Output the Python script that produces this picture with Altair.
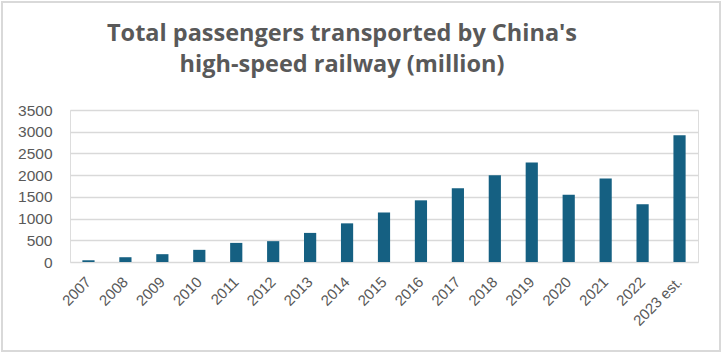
import altair as alt
import pandas as pd

years = ["2007", "2008", "2009", "2010", "2011", "2012", "2013", "2014", "2015",
         "2016", "2017", "2018", "2019", "2020", "2021", "2022", "2023 est."]
passengers = [40, 110, 180, 280, 440, 480, 670, 890, 1140,
              1420, 1700, 2000, 2290, 1550, 1920, 1330, 2920]

df = pd.DataFrame({"year": years, "passengers": passengers})

TXT = "#595959"
FONT = "Liberation Sans"

bars = alt.Chart(df).mark_bar(color="#156082").encode(
    x=alt.X("year:N", sort=years, title=None,
            scale=alt.Scale(paddingInner=0.67, paddingOuter=0.335),
            axis=alt.Axis(labelAngle=-45, labelAlign="right", labelBaseline="middle",
                          labelFontSize=15, labelColor=TXT, labelFont=FONT,
                          labelPadding=17, ticks=False, domain=False, grid=False)),
    y=alt.Y("passengers:Q", title=None,
            scale=alt.Scale(domain=[0, 3500], nice=False),
            axis=alt.Axis(values=[0, 500, 1000, 1500, 2000, 2500, 3000, 3500],
                          format="d",
                          labelFontSize=15.5, labelColor=TXT, labelFont=FONT,
                          labelPadding=18, ticks=False, domain=False,
                          gridColor="#d9d9d9", gridWidth=1.5)),
)

border = alt.Chart(pd.DataFrame({"a": [0]})).mark_rect(
    fill=None, stroke="#d9d9d9", strokeWidth=2
).encode(x=alt.value(-68), x2=alt.value(650), y=alt.value(-108), y2=alt.value(241))

chart = alt.layer(border, bars).properties(
    width=628, height=152,
    padding={"left": 70, "top": 110, "right": 24, "bottom": 92},
    autosize=alt.AutoSizeParams(type="none"),
    title=alt.TitleParams(
        ["Total passengers transported by China's", "high-speed railway (million)"],
        anchor="middle", frame="group", dx=-42, offset=-99, fontSize=23.5,
        fontWeight="bold", baseline="bottom",
        font="Open Sans", color=TXT, lineHeight=31),
).configure_view(stroke=None).configure(background="white")

chart.save("out.html", embed_options={"renderer": "svg", "actions": False})
